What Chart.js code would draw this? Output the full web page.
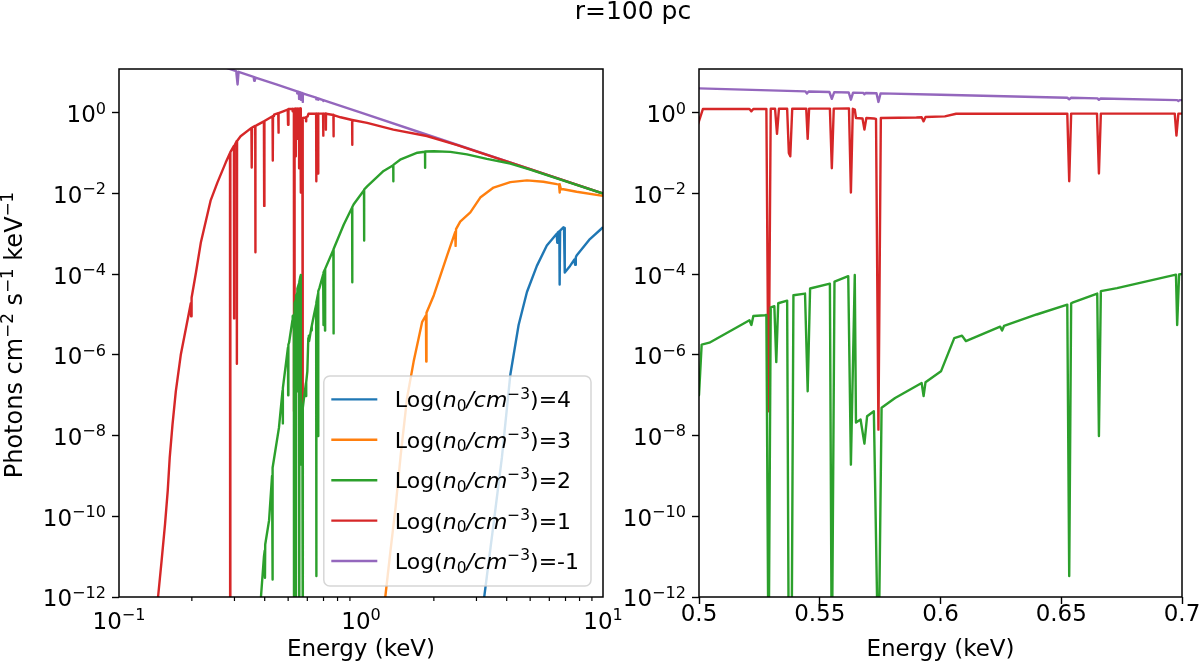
<!DOCTYPE html>
<html>
<head>
<meta charset="utf-8">
<title>r=100 pc</title>
<script src="https://cdn.jsdelivr.net/npm/chart.js@4.4.1/dist/chart.umd.min.js"></script>
<style>
  html, body { margin: 0; padding: 0; background: #ffffff; }
  #figure { position: relative; width: 1200px; height: 666px; overflow: hidden; background: #ffffff; }
  #suptitle {
    position: absolute; top: -4px; left: 483px; width: 300px;
    text-align: center; font: 25px/30px "DejaVu Sans", sans-serif; color: #000;
  }
  #leftBox { position: absolute; left: 0; top: 0; width: 660px; height: 666px; }
  #rightBox { position: absolute; left: 605px; top: 0; width: 595px; height: 666px; }
</style>
</head>
<body>
<div id="figure">
  <div id="leftBox"><canvas id="leftChart" width="660" height="666"></canvas></div>
  <div id="rightBox"><canvas id="rightChart" width="595" height="666"></canvas></div>
  <div id="suptitle">r=100 pc</div>
</div>
<script>
// axis ticks
const xTicksLeft = [0.1, 1, 10];
const xTickExponentsLeft = ["−1", "0", "1"];
const xMinorTicksLeft = [0.2, 0.3, 0.4, 0.5, 0.6, 0.7, 0.8, 0.9, 2, 3, 4, 5, 6, 7, 8, 9];
const xTicksRight = [0.5, 0.55, 0.6, 0.65, 0.7];
const xTickLabelsRight = ["0.5", "0.55", "0.6", "0.65", "0.7"];
const yTicks = [1, 1e-2, 1e-4, 1e-6, 1e-8, 1e-10, 1e-12];
const yTickExponents = ["0", "−2", "−4", "−6", "−8", "−10", "−12"];

// series: Log(n0/cm^-3) = 4, 3, 2, 1, -1
const densityLabels = ["4", "3", "2", "1", "-1"];
const lineColors = ["#1f77b4", "#ff7f0e", "#2ca02c", "#d62728", "#9467bd"];

const energyN4 = [3.15, 3.23, 3.53, 3.82, 4.14, 4.48, 4.85, 5.33, 5.86, 6.44, 6.47, 6.5, 6.6, 6.62, 6.65,
  6.86, 6.9, 6.95, 7.31, 7.62, 7.67, 7.72, 7.78, 8.83, 10];
const fluxN4 = [1e-13, 1e-12, 6.5e-11, 2.8e-9, 3.2e-7, 5.5e-6, 3.6e-5, 1.6e-4, 5.1e-4, 1.0e-3, 6e-4, 1.08e-3, 1.15e-3, 5.5e-5, 1.2e-3,
  1.45e-3, 1.4e-3, 1.1e-4, 1.6e-4, 2.3e-4, 1.7e-4, 2.6e-4, 2.9e-4, 7.4e-4, 1.45e-3];

const energyN3 = [1.2, 1.26, 1.32, 1.39, 1.46, 1.55, 1.65, 1.79, 1.855, 1.86, 1.865, 2.0, 2.27, 2.45, 2.46, 2.47,
  2.57, 2.83, 3.11, 3.53, 4.14, 4.85, 5.67, 6.44, 6.58, 6.61, 6.64, 6.7, 6.86, 7.78, 10];
const fluxN3 = [1e-13, 1e-12, 1.2e-11, 1.7e-10, 3.4e-9, 8.5e-8, 6.8e-7, 6.6e-6, 9.5e-6, 6.8e-7, 1.1e-5, 3e-5, 2.9e-4, 1.1e-3, 5e-4, 1.3e-3,
  2e-3, 3.4e-3, 7.9e-3, 0.014, 0.019, 0.021, 0.0195, 0.017, 0.0168, 0.0105, 0.0165, 0.0128, 0.0127, 0.011, 0.0087];

const energyN2 = [0.38, 0.386, 0.397, 0.4, 0.401, 0.402, 0.417, 0.429, 0.4305, 0.432, 0.458, 0.474, 0.475, 0.476, 0.481,
  0.499, 0.5, 0.5011, 0.5043, 0.5209, 0.5217, 0.5225, 0.5273, 0.5279, 0.5288, 0.5297, 0.5312, 0.532, 0.5328,
  0.5365, 0.5372, 0.5383, 0.5391, 0.5439, 0.545, 0.546, 0.5542, 0.555, 0.5561, 0.5618, 0.5629, 0.5645, 0.565,
  0.5669, 0.5685, 0.5696, 0.5724, 0.5743, 0.5756, 0.5812, 0.5922, 0.593, 0.5938, 0.6002, 0.6057, 0.6089, 0.6105,
  0.6247, 0.6255, 0.6263, 0.6398, 0.6525, 0.6533, 0.6541, 0.6549, 0.6649, 0.6656, 0.6664, 0.6731, 0.6975, 0.698,
  0.6988, 0.703, 0.709, 0.71, 0.711, 0.769, 0.77, 0.771, 0.849, 0.919, 0.92, 0.921, 0.933, 1.029, 1.03, 1.031,
  1.06, 1.24, 1.359, 1.36, 1.361, 1.46, 1.71, 1.839, 1.84, 1.841, 2.0, 2.34, 2.74, 3.31, 4.14, 5.0, 10];
const fluxN2 = [1e-13, 1e-12, 9.8e-12, 1.4e-11, 3e-12, 2e-11, 7.9e-11, 1e-9, 2.7e-12, 1.6e-9, 1.55e-8, 1.3e-7, 2e-8, 1.5e-7, 2.6e-7,
  1.5e-6, 1e-7, 1.8e-6, 2e-6, 7.2e-6, 5.5e-6, 9.2e-6, 9.6e-6, 9.7e-6, 1e-14, 1.5e-5, 1.6e-5, 6.6e-7, 1.9e-5,
  2.2e-5, 1e-14, 1e-14, 3e-5, 3.3e-5, 1.25e-7, 4.4e-5, 5.8e-5, 1e-14, 6.5e-5, 8.9e-5, 1.9e-9, 9.5e-5, 2.1e-8,
  2.5e-8, 6.3e-9, 3e-8, 4e-8, 1e-14, 4.9e-8, 8.5e-8, 2e-7, 9.5e-8, 2.1e-7, 3.9e-7, 2.6e-6, 3e-6, 2.2e-6,
  5e-6, 4e-6, 5.2e-6, 1e-5, 1.75e-5, 3.3e-12, 1.9e-5, 2e-5, 3.3e-5, 9.7e-9, 3.8e-5, 4.5e-5, 9.7e-5, 5.5e-6,
  9.8e-5, 1.1e-4, 1.3e-4, 4e-6, 1.35e-4, 4e-4, 3.4e-6, 4.2e-4, 1.7e-3, 4.5e-3, 6.3e-5, 4.6e-3, 5.4e-3, 0.012, 6.8e-4, 0.0125,
  0.015, 0.036, 0.05, 0.02, 0.051, 0.07, 0.102, 0.108, 0.043, 0.109, 0.111, 0.107, 0.093, 0.072, 0.055, 0.039, 0.0099];

const energyN1 = [0.14, 0.145, 0.15, 0.155, 0.159, 0.162, 0.1664, 0.1717, 0.18, 0.189, 0.198, 0.1985, 0.1995, 0.208, 0.218,
  0.239, 0.255, 0.276, 0.2875, 0.288, 0.2885, 0.2985, 0.299, 0.2995, 0.3065, 0.307, 0.3075, 0.318, 0.3525, 0.3535,
  0.3545, 0.3655, 0.366, 0.3665, 0.373, 0.397, 0.398, 0.399, 0.431, 0.432, 0.433, 0.437, 0.455, 0.456, 0.457, 0.48,
  0.498, 0.4995, 0.5016, 0.5209, 0.5217, 0.5225, 0.5279, 0.5288, 0.5297, 0.5315, 0.5323, 0.5331, 0.5365, 0.5372,
  0.5378, 0.5386, 0.5444, 0.545, 0.5456, 0.5542, 0.555, 0.5558, 0.5621, 0.5629, 0.5637, 0.5645, 0.565, 0.5677,
  0.5685, 0.5693, 0.5724, 0.5733, 0.5743, 0.5753, 0.59, 0.5922, 0.593, 0.5938, 0.6018, 0.6065, 0.6525, 0.6533,
  0.6541, 0.6648, 0.6656, 0.6664, 0.697, 0.6977, 0.6985, 0.7, 0.715, 0.716, 0.717, 0.769, 0.77, 0.771, 0.823,
  0.919, 0.92, 0.921, 1.06, 1.36, 1.87, 2.5, 5, 10];
const fluxN1 = [2e-13, 1e-12, 8e-12, 6.5e-11, 4.3e-10, 2.8e-9, 1.9e-8, 1.25e-7, 1e-6, 4.5e-6, 1.9e-5, 9e-6, 2.6e-5, 1.1e-4, 6.2e-4,
  6.6e-3, 0.0185, 0.058, 0.1, 1e-14, 0.105, 0.15, 8e-6, 0.15, 0.2, 6e-7, 0.2, 0.26, 0.42, 0.044,
  0.43, 0.47, 3.5e-4, 0.47, 0.5, 0.61, 4.9e-3, 0.62, 0.82, 0.065, 0.83, 0.89, 0.97, 0.32, 0.98, 1.1,
  1.2, 0.5, 1.23, 1.23, 1.08, 1.24, 1.24, 4e-8, 1.25, 1.25, 0.3, 1.25, 1.25, 0.1,
  0.083, 1.25, 1.26, 0.225, 1.26, 1.26, 0.042, 1.26, 1.27, 0.0105, 1.25, 1.2, 0.74, 0.72,
  0.38, 0.74, 0.72, 0.7, 1.4e-8, 0.74, 0.76, 0.77, 0.61, 0.78, 0.81, 0.94, 0.95, 0.02,
  0.95, 0.95, 0.031, 0.95, 0.95, 0.27, 0.95, 0.95, 0.94, 0.38, 0.94, 0.88, 0.26, 0.87, 0.77,
  0.66, 0.16, 0.66, 0.56, 0.38, 0.265, 0.158, 0.0398, 0.00995];

const energyNm1 = [0.1, 0.2, 0.28, 0.305, 0.309, 0.312, 0.36, 0.362, 0.364, 0.4, 0.45, 0.5, 0.544, 0.5447, 0.5454,
  0.554, 0.555, 0.556, 0.562, 0.5629, 0.5638, 0.568, 0.5685, 0.569, 0.5735, 0.5743, 0.5752, 0.6, 0.6525, 0.6533,
  0.6541, 0.665, 0.6656, 0.6663, 0.698, 0.6985, 0.699, 0.75, 1.0, 2.0, 5.0, 10];
const fluxNm1 = [100, 25, 12.8, 10.75, 5.0, 10.3, 7.7, 6.2, 7.55, 6.25, 4.94, 4.0, 3.38, 3.0, 3.36,
  3.26, 2.2, 3.24, 3.17, 2.1, 3.15, 3.1, 2.85, 3.09, 3.04, 1.85, 3.02, 2.78, 2.35, 2.15,
  2.34, 2.26, 2.08, 2.25, 2.05, 1.95, 2.05, 1.78, 1.0, 0.25, 0.04, 0.01];

const seriesEnergy = [energyN4, energyN3, energyN2, energyN1, energyNm1];
const seriesFlux = [fluxN4, fluxN3, fluxN2, fluxN1, fluxNm1];

const chartFont = "'DejaVu Sans', sans-serif";
const tickSize = 23;
const labelSize = 23;
const legendSize = 22;

Chart.defaults.font.family = chartFont;
Chart.defaults.font.size = tickSize;
Chart.defaults.color = "#000000";

function buildDatasets() {
  return densityLabels.map((density, i) => ({
    label: "Log(n₀/cm⁻³)=" + density,
    data: seriesEnergy[i].map((e, k) => ({ x: e, y: seriesFlux[i][k] })),
    borderColor: lineColors[i],
    backgroundColor: lineColors[i],
    borderWidth: 2.4,
    borderJoinStyle: "round",
    pointRadius: 0,
    tension: 0,
    fill: false
  }));
}

function tickLabel(values, labels) {
  return function (value) {
    const i = values.findIndex((v) => Math.abs(v - value) <= Math.abs(v) * 1e-6);
    return i >= 0 ? labels[i] : "";
  };
}

function fixedTicks(values) {
  return function (scale) {
    scale.ticks = values.map((v) => ({ value: v }));
  };
}

// small mathtext-like renderer: parts are [text, kind]
function partFont(kind, size) {
  if (kind === "italic") return `italic ${size}px ${chartFont}`;
  if (kind === "sub" || kind === "sup") return `${size * 0.7}px ${chartFont}`;
  return `${size}px ${chartFont}`;
}

function measureParts(ctx, parts, size) {
  let w = 0;
  parts.forEach(([t, kind]) => {
    ctx.font = partFont(kind, size);
    w += ctx.measureText(t).width;
  });
  return w;
}

function drawParts(ctx, parts, x, baseline, size, supRaise) {
  ctx.textBaseline = "alphabetic";
  ctx.textAlign = "left";
  parts.forEach(([t, kind]) => {
    ctx.font = partFont(kind, size);
    let dy = 0;
    if (kind === "sub") dy = 0.17 * size;
    if (kind === "sup") dy = -supRaise * size;
    ctx.fillText(t, x, baseline + dy);
    x += ctx.measureText(t).width;
  });
}

function powerParts(exponent) {
  return [["10", "normal"], [exponent, "sup"]];
}

function legendParts(density) {
  return [["Log(", "normal"], ["n", "italic"], ["0", "sub"], ["/cm", "italic"], ["−3", "sup"], [")=" + density, "normal"]];
}

const yTitleParts = [["Photons cm", "normal"], ["−2", "sup"], [" s", "normal"], ["−1", "sup"], [" keV", "normal"], ["−1", "sup"]];

// log tick labels (10^n) and the rotated y label
const mathLabels = {
  id: "mathLabels",
  afterDraw(chart, args, opts) {
    const { ctx, chartArea: a } = chart;
    ctx.save();
    ctx.fillStyle = "#000000";
    yTicks.forEach((v, i) => {
      const py = chart.scales.y.getPixelForValue(v);
      const parts = powerParts(yTickExponents[i]);
      const w = measureParts(ctx, parts, tickSize);
      drawParts(ctx, parts, a.left - 13 - w, py + 0.41 * tickSize, tickSize, 0.37);
    });
    if (opts.xExponents) {
      opts.xValues.forEach((v, i) => {
        const px = chart.scales.x.getPixelForValue(v);
        const parts = powerParts(opts.xExponents[i]);
        const w = measureParts(ctx, parts, tickSize);
        drawParts(ctx, parts, px - w / 2, a.bottom + 32, tickSize, 0.37);
      });
    }
    if (opts.yTitle) {
      const w = measureParts(ctx, yTitleParts, labelSize + 1);
      ctx.translate(22, (a.top + a.bottom) / 2 + 2);
      ctx.rotate(-Math.PI / 2);
      drawParts(ctx, yTitleParts, -w / 2, 0, labelSize + 1, 0.37);
    }
    ctx.restore();
  }
};

// matplotlib style legend box
const richLegend = {
  id: "richLegend",
  afterDatasetsDraw(chart, args, opts) {
    if (!opts.show) return;
    const { ctx, chartArea } = chart;
    const rows = chart.data.datasets.map((ds, i) => ({ color: ds.borderColor, parts: legendParts(densityLabels[i]) }));

    ctx.save();
    let maxW = 0;
    rows.forEach((row) => {
      maxW = Math.max(maxW, measureParts(ctx, row.parts, legendSize));
    });

    const boxW = 71 + maxW + 12;
    const boxH = 23.5 + 40.4 * (rows.length - 1) + 25;
    const left = chartArea.right - 12 - boxW;
    const top = chartArea.bottom - 11 - boxH;

    ctx.beginPath();
    ctx.roundRect(left, top, boxW, boxH, 6);
    ctx.fillStyle = "rgba(255,255,255,0.8)";
    ctx.fill();
    ctx.strokeStyle = "rgba(204,204,204,0.8)";
    ctx.lineWidth = 1.5;
    ctx.stroke();

    rows.forEach((row, i) => {
      const y = top + 23.5 + 40.4 * i;
      ctx.beginPath();
      ctx.moveTo(left + 7.5, y);
      ctx.lineTo(left + 53.5, y);
      ctx.strokeStyle = row.color;
      ctx.lineWidth = 2.4;
      ctx.stroke();
      ctx.fillStyle = "#000000";
      drawParts(ctx, row.parts, left + 71, y + 0.36 * legendSize, legendSize, 0.4);
    });
    ctx.restore();
  }
};

// full box frame plus minor x ticks
const axesFrame = {
  id: "axesFrame",
  afterDraw(chart, args, opts) {
    const { ctx, chartArea: a } = chart;
    ctx.save();
    ctx.strokeStyle = "#000000";
    ctx.lineWidth = 1.2;
    (opts.minorTicks || []).forEach((v) => {
      const px = chart.scales.x.getPixelForValue(v);
      ctx.beginPath();
      ctx.moveTo(px, a.bottom);
      ctx.lineTo(px, a.bottom + 4);
      ctx.stroke();
    });
    ctx.lineWidth = 1.5;
    ctx.strokeRect(a.left, a.top, a.right - a.left, a.bottom - a.top);
    ctx.restore();
  }
};

function tickGrid() {
  return {
    display: true,
    drawOnChartArea: false,
    drawTicks: true,
    tickLength: 7,
    tickColor: "#000000",
    tickWidth: 1.4
  };
}

function makeOptions(cfg) {
  return {
    responsive: false,
    animation: false,
    events: [],
    layout: { padding: { left: 0, top: 69, right: cfg.padRight, bottom: 0 } },
    plugins: {
      legend: { display: false },
      tooltip: { enabled: false },
      richLegend: { show: cfg.legend },
      axesFrame: { minorTicks: cfg.minorTicks },
      mathLabels: { xValues: cfg.xTicks, xExponents: cfg.xExponents, yTitle: cfg.yTitle }
    },
    scales: {
      x: {
        type: cfg.xType,
        min: cfg.xMin,
        max: cfg.xMax,
        afterBuildTicks: fixedTicks(cfg.xTicks),
        afterFit(scale) {
          scale.height = 69;
          scale.paddingLeft = 0;
          scale.paddingRight = 0;
        },
        ticks: {
          display: !cfg.xExponents,
          autoSkip: false,
          maxRotation: 0,
          minRotation: 0,
          padding: 0,
          color: "#000000",
          font: { size: tickSize, lineHeight: 1 },
          callback: tickLabel(cfg.xTicks, cfg.xLabels || [])
        },
        grid: tickGrid(),
        border: { display: false },
        title: {
          display: true,
          text: "Energy (keV)",
          color: "#000000",
          font: { size: labelSize },
          padding: { top: 0, bottom: 2 }
        }
      },
      y: {
        type: "logarithmic",
        min: 1e-12,
        max: 12.1,
        afterBuildTicks: fixedTicks(yTicks),
        afterFit(scale) {
          scale.width = cfg.yWidth;
          scale.paddingTop = 0;
          scale.paddingBottom = 0;
        },
        ticks: { display: false, autoSkip: false },
        grid: tickGrid(),
        border: { display: false }
      }
    }
  };
}

new Chart(document.getElementById("leftChart"), {
  type: "line",
  data: { datasets: buildDatasets() },
  options: makeOptions({
    xType: "logarithmic", xMin: 0.1, xMax: 10,
    xTicks: xTicksLeft, xExponents: xTickExponentsLeft, minorTicks: xMinorTicksLeft,
    yWidth: 119, padRight: 57, legend: true, yTitle: true
  }),
  plugins: [richLegend, axesFrame, mathLabels]
});

new Chart(document.getElementById("rightChart"), {
  type: "line",
  data: { datasets: buildDatasets() },
  options: makeOptions({
    xType: "linear", xMin: 0.5, xMax: 0.7,
    xTicks: xTicksRight, xLabels: xTickLabelsRight, xExponents: null, minorTicks: [],
    yWidth: 94, padRight: 18, legend: false, yTitle: false
  }),
  plugins: [richLegend, axesFrame, mathLabels]
});
</script>
</body>
</html>
